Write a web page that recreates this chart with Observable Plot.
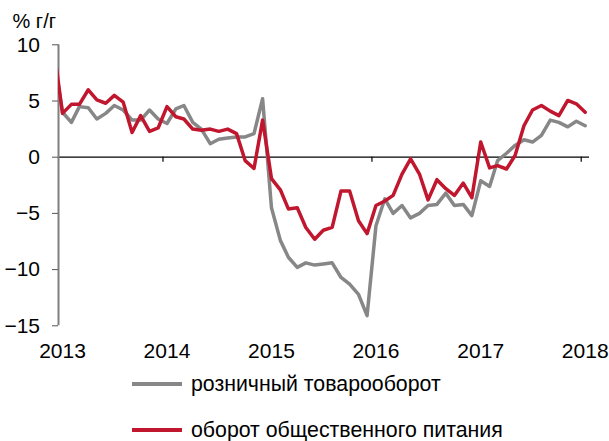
<!DOCTYPE html>
<html><head><meta charset="utf-8">
<script src="https://cdn.jsdelivr.net/npm/d3@7"></script>
<script src="https://cdn.jsdelivr.net/npm/@observablehq/plot@0.6"></script>
<style>
body{margin:0;background:#fff;font-family:"Liberation Sans",Arial,sans-serif;}
#wrap{position:relative;width:609px;height:441px;overflow:hidden;}
.leg{position:absolute;left:132px;display:flex;align-items:center;font-size:21.3px;line-height:24px;color:#000;white-space:nowrap;}
.sw{width:50px;height:4px;margin-right:9px;}
</style></head><body><div id="wrap"></div>
<script>
// Monthly, Dec 2012 .. Jan 2018 (first value lies left of the axis and is clipped)
const seriesNames = ["розничный товарооборот", "оборот общественного питания"];
const seriesColors = ["#878787", "#C0172F"];
const retail = [
  9.0,
  4.0, 3.1, 4.5, 4.4, 3.4, 3.9, 4.6, 4.2, 3.3, 3.3, 4.2, 3.4,
  3.0, 4.3, 4.6, 3.1, 2.5, 1.2, 1.6, 1.7, 1.8, 1.8, 2.1, 5.2,
  -4.5, -7.4, -8.9, -9.8, -9.4, -9.6, -9.5, -9.4, -10.7, -11.3, -12.2, -14.1,
  -6.1, -3.7, -5.0, -4.3, -5.4, -5.0, -4.3, -4.2, -3.2, -4.3, -4.2, -5.2,
  -2.1, -2.6, -0.3, 0.35, 1.05, 1.55, 1.35, 1.95, 3.3, 3.1, 2.7, 3.2,
  2.8
];
const catering = [
  9.8,
  3.9, 4.7, 4.7, 6.0, 5.1, 4.8, 5.5, 4.9, 2.2, 3.7, 2.3, 2.6,
  4.5, 3.6, 3.4, 2.5, 2.4, 2.5, 2.3, 2.5, 2.1, -0.3, -1.0, 3.3,
  -1.9, -2.9, -4.6, -4.5, -6.25, -7.3, -6.5, -6.25, -3.0, -3.0, -5.65, -6.8,
  -4.3, -3.9, -3.4, -1.5, -0.15, -1.5, -3.8, -2.0, -2.8, -3.4, -2.3, -3.6,
  1.35, -0.95, -0.75, -1.05, 0.15, 2.8, 4.2, 4.6, 4.1, 3.7, 5.05, 4.75,
  4.0
];
const yearTicks = [2013, 2014, 2015, 2016, 2017, 2018];
const yTicks = [-15, -10, -5, 0, 5, 10];
const yLabel = "% г/г";

const months = d3.utcMonth.range(new Date(Date.UTC(2012, 11, 1)), new Date(Date.UTC(2018, 1, 1)))
  .map(d => new Date(Date.UTC(d.getUTCFullYear(), d.getUTCMonth(), 15)));
const data = [];
months.forEach((m, i) => {
  data.push({date: m, value: retail[i], series: seriesNames[0]});
  data.push({date: m, value: catering[i], series: seriesNames[1]});
});
const yearDates = yearTicks.map(y => new Date(Date.UTC(y, 0, 1)));
const font = "'Liberation Sans', Arial, sans-serif";

const chart = Plot.plot({
  width: 609, height: 362,
  marginLeft: 58, marginRight: 20, marginTop: 44.3, marginBottom: 36.7,
  style: {fontFamily: font, fontSize: "21px", color: "#000", background: "#fff", overflow: "visible"},
  x: {type: "utc", domain: [new Date(Date.UTC(2013, 0, 1)), new Date(Date.UTC(2018, 0, 30))]},
  y: {domain: [-15, 10]},
  color: {domain: seriesNames, range: seriesColors},
  marks: [
    Plot.ruleY([0], {stroke: "#000", strokeWidth: 1.2}),
    Plot.ruleX(yearDates.slice(1), {y1: 0, y2: -0.45, stroke: "#000", strokeWidth: 1.2}),
    Plot.ruleX([yearDates[0]], {stroke: "#7f7f7f", strokeWidth: 2}),
    Plot.axisY({ticks: yTicks, tickSize: 6, tickPadding: 12.5, label: null, stroke: "#555", fontSize: 21}),
    Plot.axisX({ticks: yearDates, tickSize: 0, tickPadding: 17, tickFormat: d3.utcFormat("%Y"), label: null, dx: 4, fontSize: 21}),
    Plot.line(data.filter(d => d.series === seriesNames[0]), {x: "date", y: "value", stroke: "series", strokeWidth: 3.5, clip: true}),
    Plot.line(data.filter(d => d.series === seriesNames[1]), {x: "date", y: "value", stroke: "series", strokeWidth: 3.5, clip: true}),
    Plot.text([yLabel], {frameAnchor: "top-left", text: d => d, dx: -46, dy: -23, textAnchor: "start", lineAnchor: "middle", fontSize: 20})
  ]
});
const wrap = document.getElementById("wrap");
wrap.appendChild(chart);
const tops = [372, 418];
seriesNames.forEach((n, i) => {
  const row = document.createElement("div");
  row.className = "leg";
  row.style.top = tops[i] + "px";
  const sw = document.createElement("div");
  sw.className = "sw";
  sw.style.background = seriesColors[i];
  const t = document.createElement("span");
  t.textContent = n;
  row.appendChild(sw); row.appendChild(t);
  wrap.appendChild(row);
});
</script></body></html>
